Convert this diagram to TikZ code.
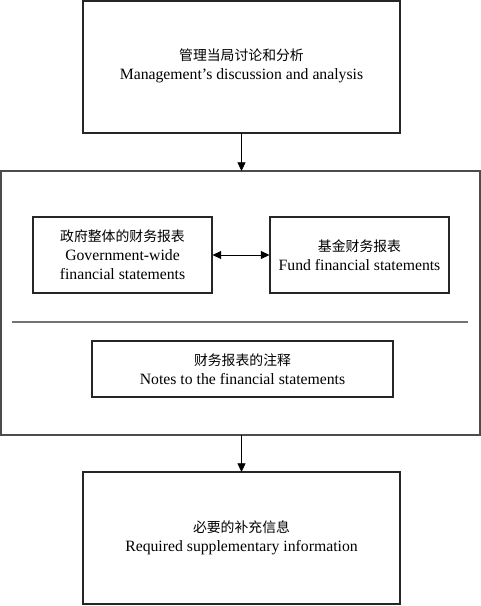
\documentclass[tikz,border=0pt]{standalone}
\usepackage{fontspec}
\setmainfont{Liberation Serif}
\newfontfamily\cjk[Scale=0.88]{Noto Sans CJK SC}
\usetikzlibrary{arrows.meta}
\begin{document}
\begin{tikzpicture}[x=0.75pt,y=-0.75pt,
  box/.style={draw=black!85,line width=0.8pt},
  lbl/.style={align=center,font=\fontsize{11.8}{14.2}\selectfont,inner sep=0pt},
  tip/.style={Triangle[length=6.5pt,width=6pt]},
  arr/.style={-{Triangle[length=6.5pt,width=6pt]},line width=0.6pt}]
\useasboundingbox (0,0) rectangle (481,606);
% top box
\draw[box] (83,1) rectangle (400,133);
\node[lbl] (mda) at (241.5,66) {{\cjk 管理当局讨论和分析}\\Management’s discussion and analysis};
\coordinate (mdab) at (241.5,133);
% outer box
\draw[draw=black!70,line width=0.9pt] (1,171) rectangle (480,435);
\coordinate (outt) at (241.5,171);
\coordinate (outb) at (241.5,435);
% inner boxes
\node[box,minimum width=179*0.75pt,minimum height=76*0.75pt,lbl] (gw) at (122.5,255) {{\cjk 政府整体的财务报表}\\Government-wide\\financial statements};
\node[box,minimum width=179*0.75pt,minimum height=76*0.75pt,lbl] (fund) at (359.5,255) {{\cjk 基金财务报表}\\Fund financial statements};
\draw[{Triangle[length=6.5pt,width=6pt]}-{Triangle[length=6.5pt,width=6pt]},line width=0.6pt] (gw.east) -- (fund.west);
% separator
\draw[draw=black!55,line width=0.9pt] (12,322) -- (468,322);
\node[box,minimum width=301*0.75pt,minimum height=56*0.75pt,lbl] (notes) at (242.5,369) {{\cjk 财务报表的注释}\\Notes to the financial statements};
% bottom box
\draw[box] (83,472) rectangle (400,604);
\node[lbl] (rsi) at (241.5,538) {{\cjk 必要的补充信息}\\Required supplementary information};
\coordinate (rsit) at (241.5,472);
\draw[arr] (mdab) -- (outt);
\draw[arr] (outb) -- (rsit);
\end{tikzpicture}
\end{document}
